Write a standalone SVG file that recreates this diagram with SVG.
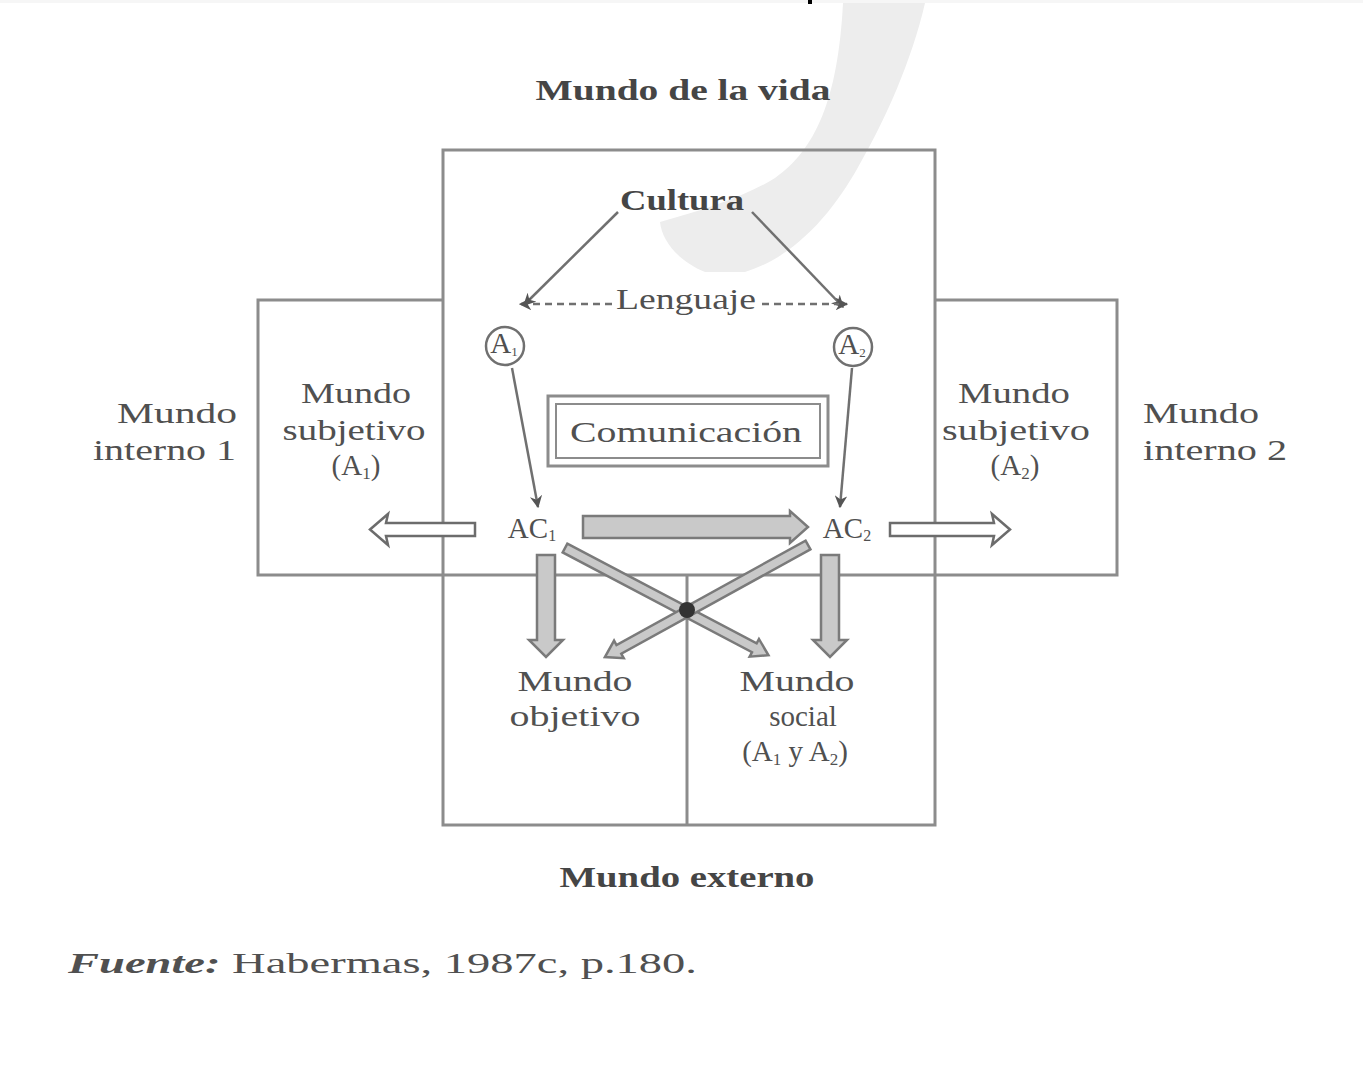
<svg xmlns="http://www.w3.org/2000/svg" width="1363" height="1070" viewBox="0 0 1363 1070">
<defs>
<marker id="ah" viewBox="0 0 10 10" refX="9" refY="5" markerWidth="5" markerHeight="5" orient="auto-start-reverse" markerUnits="strokeWidth">
<path d="M0,0 L10,5 L0,10 L3,5 Z" fill="#555"/>
</marker>
<style>
.t{font-family:"Liberation Serif","Times New Roman",serif;fill:#505050;font-size:29px;text-anchor:middle}
.b{font-weight:bold;fill:#454545}
.box{fill:none;stroke:#8c8c8c;stroke-width:3}
.ln{fill:none;stroke:#707070;stroke-width:2.5}
.dl{fill:#fff;stroke:#6c6c6c;stroke-width:2.5}
.gl{fill:#c9c9c9;stroke:#7a7a7a;stroke-width:2.5}
</style>
</defs>
<rect x="0" y="0" width="1363" height="1070" fill="#fff"/>
<rect x="0" y="0" width="1363" height="3" fill="#f6f6f6"/>
<rect x="808" y="0" width="4" height="4" fill="#000"/>
<path d="M843,3 L925,3 C912,60 885,120 862,160 C838,205 800,255 745,272 L705,272 C680,262 662,242 660,222 C705,210 748,195 775,178 C815,150 838,100 843,3 Z" fill="#ededed"/>

<g id="frames">
<rect class="box" x="443" y="150" width="492" height="675"/>
<polyline class="box" points="443,300 258,300 258,575 1117,575 1117,300 935,300"/>
<line class="box" x1="687" y1="575" x2="687" y2="825"/>
</g>

<g id="title"><text class="t b" x="683" y="100" font-size="30" textLength="295" lengthAdjust="spacingAndGlyphs">Mundo de la vida</text></g>
<g id="cultura"><text class="t b" x="682" y="210" font-size="28" textLength="124" lengthAdjust="spacingAndGlyphs">Cultura</text></g>
<g id="lenguaje"><text class="t" x="686" y="309" font-size="28" textLength="140" lengthAdjust="spacingAndGlyphs">Lenguaje</text></g>
<g id="a1"><circle cx="505" cy="346" r="19" fill="#fff" stroke="#707070" stroke-width="2.5"/><text class="t" x="504" y="353" font-size="20">A<tspan font-size="13" dy="3">1</tspan></text></g>
<g id="a2"><circle cx="853" cy="347" r="19" fill="#fff" stroke="#707070" stroke-width="2.5"/><text class="t" x="852" y="354" font-size="20">A<tspan font-size="13" dy="3">2</tspan></text></g>
<g id="comunicacion">
<rect x="548" y="396" width="280" height="70" fill="none" stroke="#8c8c8c" stroke-width="3"/>
<rect x="556" y="404" width="264" height="54" fill="none" stroke="#8c8c8c" stroke-width="2"/>
<text class="t" x="686" y="442" font-size="29" textLength="232" lengthAdjust="spacingAndGlyphs">Comunicación</text>
</g>
<g id="ac1"><text class="t" x="532" y="538" font-size="26">AC<tspan font-size="16" dy="3">1</tspan></text></g>
<g id="ac2"><text class="t" x="847" y="538" font-size="26">AC<tspan font-size="16" dy="3">2</tspan></text></g>
<g id="interno1">
<text class="t" x="237" y="423" style="text-anchor:end" textLength="120" lengthAdjust="spacingAndGlyphs">Mundo</text>
<text class="t" x="236" y="460" style="text-anchor:end" textLength="143" lengthAdjust="spacingAndGlyphs">interno 1</text>
</g>
<g id="subjetivo1">
<text class="t" x="356" y="403" textLength="110" lengthAdjust="spacingAndGlyphs">Mundo</text>
<text class="t" x="354" y="440" textLength="143" lengthAdjust="spacingAndGlyphs">subjetivo</text>
<text class="t" x="356" y="475" font-size="27">(A<tspan font-size="17" dy="4">1</tspan><tspan dy="-4">)</tspan></text>
</g>
<g id="subjetivo2">
<text class="t" x="1014" y="403" textLength="112" lengthAdjust="spacingAndGlyphs">Mundo</text>
<text class="t" x="1016" y="440" textLength="148" lengthAdjust="spacingAndGlyphs">subjetivo</text>
<text class="t" x="1015" y="475" font-size="27">(A<tspan font-size="17" dy="4">2</tspan><tspan dy="-4">)</tspan></text>
</g>
<g id="interno2">
<text class="t" x="1143" y="423" style="text-anchor:start" textLength="116" lengthAdjust="spacingAndGlyphs">Mundo</text>
<text class="t" x="1143" y="460" style="text-anchor:start" textLength="144" lengthAdjust="spacingAndGlyphs">interno 2</text>
</g>
<g id="objetivo">
<text class="t" x="575" y="691" textLength="115" lengthAdjust="spacingAndGlyphs">Mundo</text>
<text class="t" x="575" y="726" textLength="131" lengthAdjust="spacingAndGlyphs">objetivo</text>
</g>
<g id="social">
<text class="t" x="797" y="691" textLength="115" lengthAdjust="spacingAndGlyphs">Mundo</text>
<text class="t" x="803" y="726">social</text>
<text class="t" x="795" y="761" font-size="27">(A<tspan font-size="17" dy="4">1</tspan><tspan dy="-4"> y A</tspan><tspan font-size="17" dy="4">2</tspan><tspan dy="-4">)</tspan></text>
</g>
<g id="externo"><text class="t b" x="687" y="887" font-size="29" textLength="255" lengthAdjust="spacingAndGlyphs">Mundo externo</text></g>
<g id="fuente"><text class="t" x="68" y="973" font-size="36" style="text-anchor:start" textLength="629" lengthAdjust="spacingAndGlyphs"><tspan font-style="italic" font-weight="bold">Fuente:</tspan> Habermas, 1987c, p.180.</text></g>

<g id="connectors">
<line class="ln" x1="618" y1="212" x2="524" y2="305" marker-end="url(#ah)"/>
<line class="ln" x1="752" y1="212" x2="843" y2="307" marker-end="url(#ah)"/>
<line class="ln" x1="612" y1="304" x2="520" y2="304" stroke-dasharray="7,5" marker-end="url(#ah)"/>
<line class="ln" x1="762" y1="304" x2="847" y2="304" stroke-dasharray="7,5" marker-end="url(#ah)"/>
<line class="ln" x1="512" y1="368" x2="538" y2="507" marker-end="url(#ah)"/>
<line class="ln" x1="852" y1="368" x2="840" y2="507" marker-end="url(#ah)"/>
<polygon class="dl" points="370,529.5 388,514 386,523 475,523 475,536 386,536 388,545"/>
<polygon class="dl" points="1010,529.5 992,514 994,523 890,523 890,536 994,536 992,545"/>
<polygon class="gl" points="583,516 790,516 790,511 808,527 790,543 790,538 583,538"/>
<polygon class="gl" points="537,555 555,555 555,640 563,640 546,657 529,640 537,640"/>
<polygon class="gl" points="821,555 839,555 839,640 847,640 830,657 813,640 821,640"/>
<polygon class="gl" transform="translate(565,548) rotate(27.8)" points="0,-5 214,-5 214,-10 230,0 214,10 214,5 0,5"/>
<polygon class="gl" transform="translate(808,545) rotate(151.1)" points="0,-5 216,-5 216,-10 232,0 216,10 216,5 0,5"/>
<circle cx="687" cy="610" r="8" fill="#333"/>
</g>
</svg>
